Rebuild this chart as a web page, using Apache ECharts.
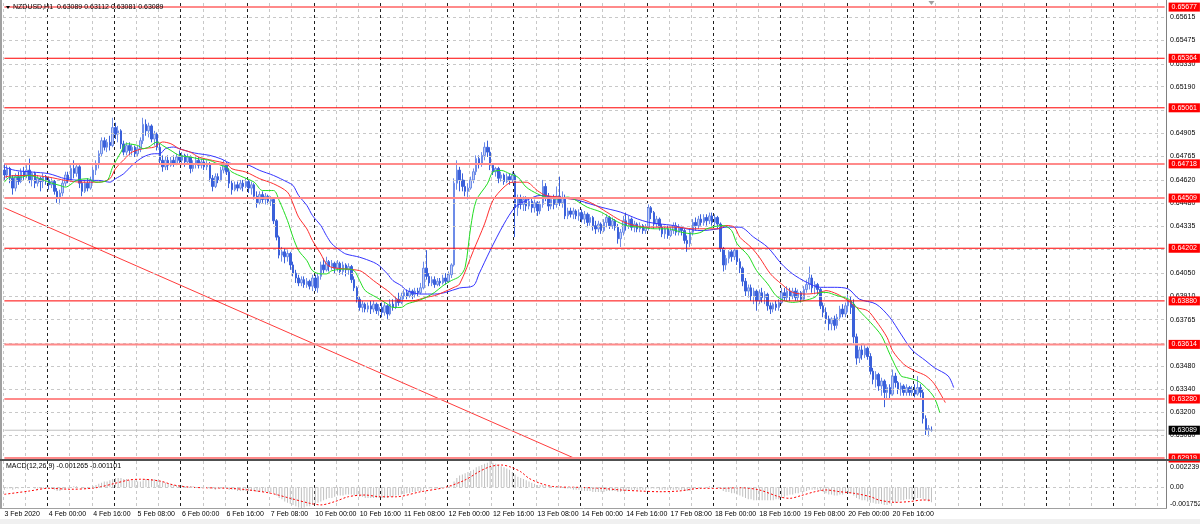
<!DOCTYPE html>
<html><head><meta charset="utf-8">
<script src="https://cdn.jsdelivr.net/npm/echarts@6/dist/echarts.min.js"></script>
<style>html,body{margin:0;padding:0;background:#fff}#c{width:1200px;height:524px}</style>
</head><body><div id="c"></div>
<script>
// ---------------- DATA ----------------
const symbolName = 'NZDUSD,H1';
const macdName = 'MACD(12,26,9)';
const timeLabels = ['3 Feb 2020','4 Feb 00:00','4 Feb 16:00','5 Feb 08:00','6 Feb 00:00','6 Feb 16:00','7 Feb 08:00','10 Feb 00:00','10 Feb 16:00','11 Feb 08:00','12 Feb 00:00','12 Feb 16:00','13 Feb 08:00','14 Feb 00:00','14 Feb 16:00','17 Feb 08:00','18 Feb 00:00','18 Feb 16:00','19 Feb 08:00','20 Feb 00:00','20 Feb 16:00'];
const priceTicks = [0.65615,0.65475,0.65330,0.65190,0.65045,0.64905,0.64765,0.64620,0.64480,0.64335,0.64195,0.64050,0.63910,0.63765,0.63620,0.63480,0.63340,0.63200,0.63060];
const levelsStrong = [0.65364,0.65061,0.64202,0.63880];
const levelsLight = [0.65677,0.64718,0.64509,0.63614,0.63280,0.62919];
const macdTicks = [0.002239, 0.00, -0.001752];
// hourly candles [open, close, low, high], 3 Feb 08:00 .. 21 Feb 06:00
const ohlc = [
// 3 Feb 08-23
[0.6468,0.6465,0.6462,0.6472],[0.6465,0.6469,0.6463,0.6471],[0.6469,0.6463,0.6460,0.6470],[0.6463,0.6457,0.6453,0.6465],
[0.6457,0.6464,0.6455,0.6466],[0.6464,0.6461,0.6459,0.6467],[0.6461,0.6467,0.6460,0.6469],[0.6467,0.6465,0.6462,0.6470],
[0.6465,0.6468,0.6463,0.6471],[0.6468,0.6462,0.6460,0.6475],[0.6462,0.6466,0.6458,0.6467],[0.6466,0.6460,0.6457,0.6467],
[0.6460,0.6463,0.6458,0.6465],[0.6463,0.6461,0.6455,0.6464],[0.6461,0.6464,0.6457,0.6466],[0.6464,0.6462,0.6459,0.6465],
// 4 Feb
[0.6462,0.6459,0.6456,0.6464],[0.6459,0.6461,0.6457,0.6463],[0.6461,0.6455,0.6453,0.6462],[0.6455,0.6451,0.6448,0.6457],
[0.6451,0.6454,0.6447,0.6456],[0.6454,0.6460,0.6452,0.6462],[0.6460,0.6465,0.6458,0.6467],[0.6465,0.6462,0.6460,0.6467],
[0.6462,0.6469,0.6461,0.6471],[0.6469,0.6466,0.6463,0.6474],[0.6466,0.6470,0.6464,0.6472],[0.6470,0.6460,0.6457,0.6471],
[0.6460,0.6455,0.6452,0.6462],[0.6455,0.6460,0.6454,0.6462],[0.6460,0.6457,0.6455,0.6463],[0.6457,0.6462,0.6456,0.6464],
[0.6462,0.6468,0.6460,0.6470],[0.6468,0.6472,0.6465,0.6474],[0.6472,0.6478,0.6469,0.6480],[0.6478,0.6486,0.6476,0.6488],
[0.6486,0.6482,0.6480,0.6488],[0.6482,0.6485,0.6479,0.6487],[0.6485,0.6483,0.6480,0.6489],[0.6483,0.6494,0.6482,0.6500],
// 5 Feb
[0.6494,0.6490,0.6487,0.6497],[0.6490,0.6492,0.6485,0.6495],[0.6492,0.6484,0.6481,0.6493],[0.6484,0.6479,0.6477,0.6486],
[0.6479,0.6483,0.6477,0.6485],[0.6483,0.6480,0.6477,0.6485],[0.6480,0.6482,0.6477,0.6484],[0.6482,0.6478,0.6476,0.6483],
[0.6478,0.6481,0.6476,0.6483],[0.6481,0.6486,0.6479,0.6488],[0.6486,0.6496,0.6484,0.6500],[0.6496,0.6492,0.6489,0.6499],
[0.6492,0.6495,0.6488,0.6497],[0.6495,0.6487,0.6485,0.6496],[0.6487,0.6490,0.6483,0.6492],[0.6490,0.6482,0.6480,0.6491],
[0.6482,0.6474,0.6472,0.6484],[0.6474,0.6470,0.6467,0.6477],[0.6470,0.6474,0.6468,0.6476],[0.6474,0.6471,0.6468,0.6477],
[0.6471,0.6474,0.6470,0.6476],[0.6474,0.6472,0.6470,0.6477],[0.6472,0.6476,0.6471,0.6478],[0.6476,0.6474,0.6472,0.6480],
// 6 Feb
[0.6474,0.6477,0.6471,0.6479],[0.6477,0.6473,0.6470,0.6478],[0.6473,0.6476,0.6472,0.6478],[0.6476,0.6469,0.6466,0.6477],
[0.6469,0.6472,0.6467,0.6474],[0.6472,0.6474,0.6469,0.6476],[0.6474,0.6471,0.6469,0.6476],[0.6471,0.6473,0.6469,0.6475],
[0.6473,0.6470,0.6468,0.6475],[0.6470,0.6472,0.6468,0.6474],[0.6472,0.6463,0.6461,0.6473],[0.6463,0.6458,0.6455,0.6465],
[0.6458,0.6464,0.6457,0.6466],[0.6464,0.6462,0.6460,0.6466],[0.6462,0.6468,0.6461,0.6470],[0.6468,0.6471,0.6466,0.6474],
[0.6471,0.6467,0.6465,0.6473],[0.6467,0.6460,0.6457,0.6469],[0.6460,0.6456,0.6453,0.6462],[0.6456,0.6459,0.6455,0.6461],
[0.6459,0.6457,0.6455,0.6461],[0.6457,0.6460,0.6456,0.6462],[0.6460,0.6458,0.6455,0.6462],[0.6458,0.6461,0.6457,0.6463],
// 7 Feb
[0.6461,0.6457,0.6454,0.6462],[0.6457,0.6459,0.6453,0.6461],[0.6459,0.6452,0.6450,0.6460],[0.6452,0.6448,0.6445,0.6455],
[0.6448,0.6453,0.6447,0.6455],[0.6453,0.6450,0.6448,0.6455],[0.6450,0.6452,0.6447,0.6454],[0.6452,0.6449,0.6447,0.6453],
[0.6449,0.6450,0.6446,0.6452],[0.6450,0.6437,0.6435,0.6451],[0.6437,0.6427,0.6425,0.6438],[0.6427,0.6416,0.6414,0.6428],
[0.6416,0.6418,0.6412,0.6421],[0.6418,0.6415,0.6411,0.6420],[0.6415,0.6417,0.6412,0.6419],[0.6417,0.6410,0.6407,0.6418],
[0.6410,0.6405,0.6403,0.6412],[0.6405,0.6402,0.6399,0.6407],[0.6402,0.6399,0.6397,0.6404],[0.6399,0.6401,0.6397,0.6403],
[0.6401,0.6398,0.6396,0.6403],[0.6398,0.6400,0.6396,0.6402],[0.6400,0.6397,0.6395,0.6401],[0.6397,0.6402,0.6394,0.6404],
// 10 Feb
[0.6402,0.6396,0.6394,0.6404],[0.6396,0.6403,0.6393,0.6405],[0.6403,0.6410,0.6401,0.6412],[0.6410,0.6407,0.6405,0.6414],
[0.6407,0.6412,0.6406,0.6415],[0.6412,0.6409,0.6406,0.6413],[0.6409,0.6411,0.6407,0.6413],[0.6411,0.6408,0.6405,0.6412],
[0.6408,0.6411,0.6406,0.6413],[0.6411,0.6406,0.6404,0.6412],[0.6406,0.6410,0.6404,0.6412],[0.6410,0.6407,0.6403,0.6411],
[0.6407,0.6409,0.6404,0.6411],[0.6409,0.6401,0.6399,0.6410],[0.6401,0.6396,0.6394,0.6403],[0.6396,0.6389,0.6387,0.6397],
[0.6389,0.6384,0.6382,0.6391],[0.6384,0.6386,0.6381,0.6388],[0.6386,0.6383,0.6381,0.6387],[0.6383,0.6385,0.6381,0.6387],
[0.6385,0.6383,0.6380,0.6388],[0.6383,0.6386,0.6381,0.6388],[0.6386,0.6382,0.6380,0.6387],[0.6382,0.6384,0.6379,0.6386],
// 11 Feb
[0.6384,0.6381,0.6378,0.6387],[0.6381,0.6385,0.6379,0.6387],[0.6385,0.6380,0.6377,0.6386],[0.6380,0.6386,0.6379,0.6389],
[0.6386,0.6384,0.6382,0.6389],[0.6384,0.6389,0.6383,0.6391],[0.6389,0.6387,0.6385,0.6393],[0.6387,0.6391,0.6386,0.6393],
[0.6391,0.6393,0.6389,0.6395],[0.6393,0.6391,0.6389,0.6395],[0.6391,0.6394,0.6390,0.6396],[0.6394,0.6392,0.6389,0.6395],
[0.6392,0.6394,0.6390,0.6396],[0.6394,0.6393,0.6391,0.6396],[0.6393,0.6396,0.6392,0.6399],[0.6396,0.6408,0.6395,0.6412],
[0.6408,0.6403,0.6401,0.6419],[0.6403,0.6399,0.6397,0.6405],[0.6399,0.6401,0.6397,0.6403],[0.6401,0.6398,0.6396,0.6403],
[0.6398,0.6400,0.6397,0.6402],[0.6400,0.6399,0.6397,0.6402],[0.6399,0.6402,0.6398,0.6404],[0.6402,0.6400,0.6398,0.6405],
// 12 Feb
[0.6400,0.6404,0.6399,0.6406],[0.6404,0.6410,0.6402,0.6411],[0.6410,0.6460,0.6409,0.6463],[0.6460,0.6468,0.6456,0.6474],
[0.6468,0.6462,0.6455,0.6470],[0.6462,0.6458,0.6455,0.6466],[0.6458,0.6455,0.6452,0.6462],[0.6455,0.6457,0.6450,0.6460],
[0.6457,0.6462,0.6456,0.6464],[0.6462,0.6467,0.6460,0.6469],[0.6467,0.6475,0.6465,0.6477],[0.6475,0.6472,0.6469,0.6477],
[0.6472,0.6477,0.6470,0.6479],[0.6477,0.6482,0.6474,0.6485],[0.6482,0.6479,0.6476,0.6486],[0.6479,0.6471,0.6468,0.6482],
[0.6471,0.6467,0.6465,0.6472],[0.6467,0.6469,0.6464,0.6470],[0.6469,0.6463,0.6460,0.6470],[0.6463,0.6465,0.6461,0.6467],
[0.6465,0.6461,0.6459,0.6466],[0.6461,0.6464,0.6460,0.6466],[0.6464,0.6462,0.6459,0.6466],[0.6462,0.6465,0.6460,0.6467],
// 13 Feb
[0.6465,0.6445,0.6427,0.6466],[0.6445,0.6451,0.6440,0.6453],[0.6451,0.6447,0.6444,0.6453],[0.6447,0.6450,0.6443,0.6452],
[0.6450,0.6446,0.6443,0.6452],[0.6446,0.6449,0.6444,0.6451],[0.6449,0.6445,0.6442,0.6451],[0.6445,0.6448,0.6442,0.6450],
[0.6448,0.6443,0.6440,0.6449],[0.6443,0.6447,0.6441,0.6449],[0.6447,0.6458,0.6445,0.6462],[0.6458,0.6452,0.6449,0.6460],
[0.6452,0.6446,0.6443,0.6454],[0.6446,0.6450,0.6444,0.6452],[0.6450,0.6447,0.6444,0.6453],[0.6447,0.6452,0.6445,0.6458],
[0.6452,0.6448,0.6446,0.6464],[0.6448,0.6451,0.6445,0.6455],[0.6451,0.6440,0.6438,0.6453],[0.6440,0.6443,0.6438,0.6445],
[0.6443,0.6441,0.6439,0.6445],[0.6441,0.6443,0.6438,0.6445],[0.6443,0.6440,0.6438,0.6444],[0.6440,0.6442,0.6437,0.6444],
// 14 Feb
[0.6442,0.6438,0.6436,0.6444],[0.6438,0.6441,0.6435,0.6443],[0.6441,0.6436,0.6433,0.6442],[0.6436,0.6439,0.6434,0.6441],
[0.6439,0.6434,0.6431,0.6440],[0.6434,0.6432,0.6429,0.6437],[0.6432,0.6435,0.6430,0.6437],[0.6435,0.6431,0.6429,0.6436],
[0.6431,0.6436,0.6430,0.6438],[0.6436,0.6439,0.6433,0.6441],[0.6439,0.6434,0.6432,0.6440],[0.6434,0.6437,0.6432,0.6439],
[0.6437,0.6433,0.6431,0.6438],[0.6433,0.6426,0.6423,0.6435],[0.6426,0.6430,0.6421,0.6432],[0.6430,0.6437,0.6428,0.6440],
[0.6437,0.6434,0.6431,0.6442],[0.6434,0.6438,0.6432,0.6440],[0.6438,0.6433,0.6431,0.6439],[0.6433,0.6435,0.6430,0.6437],
[0.6435,0.6432,0.6430,0.6436],[0.6432,0.6434,0.6430,0.6436],[0.6434,0.6431,0.6429,0.6435],[0.6431,0.6433,0.6429,0.6435],
// 17 Feb
[0.6433,0.6445,0.6431,0.6447],[0.6445,0.6442,0.6438,0.6446],[0.6442,0.6435,0.6432,0.6443],[0.6435,0.6438,0.6433,0.6440],
[0.6438,0.6433,0.6431,0.6439],[0.6433,0.6429,0.6427,0.6435],[0.6429,0.6432,0.6426,0.6434],[0.6432,0.6428,0.6426,0.6434],
[0.6428,0.6431,0.6427,0.6433],[0.6431,0.6434,0.6429,0.6436],[0.6434,0.6430,0.6428,0.6436],[0.6430,0.6433,0.6428,0.6435],
[0.6433,0.6431,0.6428,0.6434],[0.6431,0.6425,0.6423,0.6432],[0.6425,0.6423,0.6418,0.6428],[0.6423,0.6430,0.6421,0.6432],
[0.6430,0.6436,0.6428,0.6438],[0.6436,0.6434,0.6431,0.6439],[0.6434,0.6438,0.6432,0.6440],[0.6438,0.6436,0.6434,0.6441],
[0.6436,0.6439,0.6434,0.6441],[0.6439,0.6437,0.6434,0.6441],[0.6437,0.6440,0.6435,0.6442],[0.6440,0.6436,0.6434,0.6442],
// 18 Feb
[0.6436,0.6439,0.6434,0.6441],[0.6439,0.6435,0.6432,0.6440],[0.6435,0.6420,0.6418,0.6436],[0.6420,0.6410,0.6406,0.6421],
[0.6410,0.6414,0.6407,0.6416],[0.6414,0.6418,0.6411,0.6419],[0.6418,0.6415,0.6412,0.6420],[0.6415,0.6419,0.6413,0.6420],
[0.6419,0.6412,0.6410,0.6420],[0.6412,0.6408,0.6405,0.6414],[0.6408,0.6400,0.6397,0.6409],[0.6400,0.6394,0.6391,0.6402],
[0.6394,0.6396,0.6390,0.6398],[0.6396,0.6391,0.6388,0.6398],[0.6391,0.6394,0.6386,0.6396],[0.6394,0.6388,0.6382,0.6395],
[0.6388,0.6393,0.6386,0.6395],[0.6393,0.6390,0.6387,0.6396],[0.6390,0.6392,0.6386,0.6394],[0.6392,0.6385,0.6382,0.6393],
[0.6385,0.6383,0.6380,0.6387],[0.6383,0.6386,0.6381,0.6387],[0.6386,0.6384,0.6382,0.6388],[0.6384,0.6387,0.6382,0.6389],
// 19 Feb
[0.6387,0.6393,0.6386,0.6396],[0.6393,0.6390,0.6388,0.6396],[0.6390,0.6394,0.6388,0.6397],[0.6394,0.6391,0.6388,0.6396],
[0.6391,0.6394,0.6389,0.6396],[0.6394,0.6390,0.6388,0.6396],[0.6390,0.6393,0.6388,0.6395],[0.6393,0.6389,0.6387,0.6394],
[0.6389,0.6395,0.6388,0.6397],[0.6395,0.6398,0.6393,0.6401],[0.6398,0.6402,0.6395,0.6409],[0.6402,0.6396,0.6393,0.6404],
[0.6396,0.6398,0.6392,0.6400],[0.6398,0.6395,0.6392,0.6399],[0.6395,0.6385,0.6383,0.6396],[0.6385,0.6381,0.6378,0.6387],
[0.6381,0.6377,0.6374,0.6384],[0.6377,0.6374,0.6370,0.6379],[0.6374,0.6377,0.6370,0.6378],[0.6377,0.6373,0.6370,0.6379],
[0.6373,0.6378,0.6371,0.6380],[0.6378,0.6383,0.6376,0.6385],[0.6383,0.6380,0.6378,0.6386],[0.6380,0.6385,0.6378,0.6387],
// 20 Feb
[0.6385,0.6388,0.6381,0.6392],[0.6388,0.6384,0.6380,0.6391],[0.6386,0.6366,0.6362,0.6389],[0.6366,0.6353,0.6349,0.6368],
[0.6353,0.6358,0.6350,0.6360],[0.6358,0.6355,0.6352,0.6361],[0.6355,0.6359,0.6353,0.6361],[0.6359,0.6354,0.6352,0.6360],
[0.6354,0.6345,0.6343,0.6356],[0.6345,0.6340,0.6337,0.6347],[0.6340,0.6343,0.6335,0.6345],[0.6343,0.6336,0.6333,0.6344],
[0.6336,0.6339,0.6330,0.6341],[0.6339,0.6332,0.6323,0.6340],[0.6332,0.6335,0.6328,0.6337],[0.6335,0.6331,0.6328,0.6337],
[0.6331,0.6342,0.6330,0.6346],[0.6342,0.6338,0.6335,0.6344],[0.6338,0.6334,0.6331,0.6339],[0.6334,0.6336,0.6330,0.6338],
[0.6336,0.6332,0.6330,0.6337],[0.6332,0.6335,0.6330,0.6337],[0.6335,0.6332,0.6330,0.6336],[0.6332,0.6334,0.6330,0.6336],
// 21 Feb 00-06
[0.6334,0.6331,0.6329,0.6337],[0.6331,0.6335,0.6330,0.6342],[0.6335,0.6332,0.6329,0.6337],[0.6332,0.6316,0.6313,0.6334],
[0.6316,0.6309,0.6306,0.6318],[0.6309,0.6310,0.6305,0.6312],[0.63089,0.63089,0.63081,0.63112]
];
// Alligator lines: [bar index, price]
const jaw = [[0,0.64698],[4,0.64678],[10,0.64668],[16,0.64658],[22,0.64627],[28,0.64617],[34,0.64617],[38,0.64606],[40,0.64627],[43,0.64658],[46,0.64709],[50,0.64760],[54,0.64780],[56,0.64780],[58,0.64811],[61,0.64821],[63,0.64811],[67,0.64790],[70,0.64780],[74,0.64770],[78,0.64749],[82,0.64719],[87,0.64715],[92,0.64678],[97,0.64647],[102,0.64606],[104,0.64586],[106,0.64525],[109,0.64463],[111,0.64402],[114,0.64341],[116,0.64280],[118,0.64229],[121,0.64188],[123,0.64167],[128,0.64147],[133,0.64116],[135,0.64096],[138,0.64045],[140,0.64004],[143,0.63973],[145,0.63943],[150,0.63922],[155,0.63922],[159,0.63932],[164,0.63959],[169,0.63973],[171,0.64045],[175,0.64188],[180,0.64351],[184,0.64453],[188,0.64494],[193,0.64525],[198,0.64515],[204,0.64504],[207,0.64494],[215,0.64453],[222,0.64423],[228,0.64382],[232,0.64361],[236,0.64351],[241,0.64341],[246,0.64320],[251,0.64310],[257,0.64320],[260,0.64331],[265,0.64331],[270,0.64269],[275,0.64208],[280,0.64106],[284,0.64045],[289,0.63994],[294,0.63963],[299,0.63963],[304,0.63953],[308,0.63891],[314,0.63861],[319,0.63779],[323,0.63677],[327,0.63580],[332,0.63513],[335,0.63472],[340,0.63421],[342,0.63350]];
const teeth = [[0,0.64637],[4,0.64647],[10,0.64647],[16,0.64637],[22,0.64617],[28,0.64606],[34,0.64606],[38,0.64627],[40,0.64688],[44,0.64760],[46,0.64790],[50,0.64811],[54,0.64821],[57,0.64852],[60,0.64841],[63,0.64811],[67,0.64790],[70,0.64760],[75,0.64739],[80,0.64719],[82,0.64688],[87,0.64668],[92,0.64627],[97,0.64596],[102,0.64545],[104,0.64474],[106,0.64392],[109,0.64320],[111,0.64249],[114,0.64167],[116,0.64106],[118,0.64085],[123,0.64075],[128,0.64065],[130,0.64045],[133,0.64004],[138,0.63943],[143,0.63881],[147,0.63881],[152,0.63902],[155,0.63912],[158,0.63932],[162,0.63963],[164,0.63983],[169,0.64188],[173,0.64351],[176,0.64494],[180,0.64576],[183,0.64606],[188,0.64606],[192,0.64555],[195,0.64525],[200,0.64515],[204,0.64504],[207,0.64504],[212,0.64474],[217,0.64423],[222,0.64372],[227,0.64341],[232,0.64331],[236,0.64331],[242,0.64331],[248,0.64321],[253,0.64321],[257,0.64321],[260,0.64341],[263,0.64331],[265,0.64269],[269,0.64208],[272,0.64147],[276,0.64045],[280,0.63983],[284,0.63932],[289,0.63922],[294,0.63932],[296,0.63943],[300,0.63922],[304,0.63881],[307,0.63840],[311,0.63820],[314,0.63759],[318,0.63657],[320,0.63575],[324,0.63493],[328,0.63452],[332,0.63422],[335,0.63373],[339,0.63258]];
const lips = [[0,0.64606],[2,0.64637],[6,0.64637],[9,0.64647],[13,0.64627],[16,0.64606],[20,0.64586],[22,0.64576],[26,0.64617],[30,0.64627],[33,0.64606],[37,0.64617],[39,0.64698],[42,0.64790],[44,0.64841],[48,0.64831],[50,0.64811],[52,0.64821],[55,0.64852],[57,0.64831],[60,0.64800],[63,0.64770],[67,0.64760],[70,0.64749],[74,0.64739],[78,0.64709],[80,0.64698],[82,0.64668],[86,0.64637],[90,0.64606],[93,0.64555],[97,0.64555],[99,0.64494],[102,0.64371],[104,0.64269],[106,0.64188],[109,0.64126],[111,0.64065],[114,0.64045],[116,0.64045],[118,0.64065],[123,0.64075],[126,0.64065],[128,0.64004],[130,0.63943],[134,0.63902],[138,0.63861],[140,0.63840],[143,0.63840],[145,0.63861],[149,0.63881],[152,0.63902],[155,0.63932],[158,0.63973],[161,0.64004],[164,0.64030],[166,0.64086],[168,0.64331],[170,0.64494],[174,0.64596],[176,0.64668],[179,0.64678],[182,0.64658],[185,0.64637],[188,0.64576],[192,0.64535],[195,0.64515],[199,0.64504],[203,0.64515],[205,0.64504],[207,0.64484],[210,0.64453],[215,0.64423],[220,0.64372],[224,0.64341],[229,0.64331],[234,0.64321],[239,0.64321],[244,0.64300],[248,0.64290],[251,0.64300],[253,0.64321],[256,0.64335],[259,0.64341],[262,0.64310],[264,0.64229],[268,0.64157],[271,0.64065],[275,0.63984],[278,0.63912],[281,0.63881],[284,0.63871],[288,0.63881],[292,0.63902],[294,0.63932],[296,0.63932],[300,0.63912],[304,0.63892],[306,0.63861],[308,0.63820],[312,0.63749],[316,0.63667],[319,0.63554],[323,0.63422],[325,0.63411],[329,0.63391],[332,0.63350],[335,0.63289],[337,0.63197]];
const trendLine = [[0,0.64449],[206,0.62913]];
// MACD main (histogram), one value per candle
const macdMain = [
-0.0002,-0.0001,-0.0001,-0.0002,-0.0001,-0.0001,0,0,0,0,0,-0.0001,-0.0001,-0.0001,-0.0001,-0.0001,
-0.0001,-0.0001,-0.0002,-0.0003,-0.0003,-0.0002,-0.0001,-0.0001,0,0.0001,0.0001,0,-0.0001,-0.0001,-0.0001,0,
0.0001,0.0002,0.0003,0.0004,0.0005,0.0005,0.0006,0.0007,
0.0008,0.0008,0.0008,0.0007,0.0007,0.0006,0.0006,0.0006,0.0005,0.0005,0.0006,0.0007,0.0007,0.0007,0.0007,0.0006,
0.0005,0.0005,0.0004,0.0003,0.0003,0.0002,0.0002,0.0002,0.0002,0.0001,0.0001,0.0001,0.0001,0,0,0,
0,0,-0.0001,-0.0001,-0.0002,-0.0001,-0.0001,-0.0001,-0.0001,-0.0002,-0.0002,-0.0002,-0.0003,-0.0003,-0.0003,-0.0003,
-0.0003,-0.0003,-0.0003,-0.0004,-0.0004,-0.0004,-0.0004,-0.0004,-0.0004,-0.0005,-0.0007,-0.0009,-0.0010,-0.0012,-0.0013,-0.0014,-0.0015,-0.0016,-0.0017,-0.00175,-0.0017,-0.0016,-0.0016,-0.0015,
-0.0014,-0.0013,-0.0012,-0.0011,-0.0010,-0.0009,-0.0009,-0.0008,-0.0007,-0.0007,-0.0007,-0.0006,-0.0006,-0.0006,-0.0007,-0.0007,-0.0008,-0.0008,-0.0009,-0.0009,-0.0009,-0.0009,-0.0009,-0.0009,
-0.0009,-0.0009,-0.0009,-0.0008,-0.0008,-0.0007,-0.0007,-0.0006,-0.0006,-0.0005,-0.0005,-0.0004,-0.0004,-0.0003,-0.0003,-0.0002,-0.0001,-0.0001,-0.0001,-0.0001,-0.0001,-0.0001,0,0,
0,0.0001,0.0005,0.0008,0.0010,0.0011,0.0012,0.0013,0.0014,0.0015,0.0017,0.0018,0.0019,0.0020,0.0021,0.002239,0.0021,0.0020,0.0019,0.0018,0.0017,0.0016,0.0015,0.0013,
0.0011,0.0009,0.0008,0.0007,0.0006,0.0005,0.0004,0.0003,0.0002,0.0002,0.0002,0.0001,0.0001,0.0001,0,0,0,0,-0.0001,-0.0001,-0.0001,-0.0002,-0.0002,-0.0002,
-0.0003,-0.0003,-0.0003,-0.0003,-0.0004,-0.0004,-0.0004,-0.0004,-0.0004,-0.0003,-0.0003,-0.0003,-0.0003,-0.0004,-0.0004,-0.0003,-0.0003,-0.0002,-0.0002,-0.0002,-0.0002,-0.0002,-0.0002,-0.0002,
-0.0001,-0.0001,-0.0001,-0.0001,-0.0002,-0.0002,-0.0002,-0.0002,-0.0002,-0.0002,-0.0002,-0.0002,-0.0002,-0.0003,-0.0003,-0.0003,-0.0002,-0.0001,-0.0001,0,0,0,0.0001,0,
0,0,-0.0001,-0.0003,-0.0004,-0.0004,-0.0005,-0.0005,-0.0006,-0.0007,-0.0008,-0.0009,-0.0010,-0.0010,-0.0011,-0.0011,-0.0011,-0.0011,-0.0011,-0.0011,-0.0011,-0.0011,-0.0010,-0.0010,
-0.0009,-0.0008,-0.0007,-0.0006,-0.0006,-0.0005,-0.0005,-0.0004,-0.0004,-0.0003,-0.0002,-0.0002,-0.0002,-0.0002,-0.0003,-0.0004,-0.0005,-0.0006,-0.0006,-0.0007,-0.0007,-0.0006,-0.0006,-0.0005,
-0.0005,-0.0005,-0.0007,-0.0009,-0.0010,-0.0011,-0.0011,-0.0012,-0.0013,-0.0013,-0.0014,-0.0014,-0.0014,-0.0015,-0.0015,-0.0014,-0.0013,-0.0013,-0.0012,-0.0011,-0.0011,-0.0010,-0.0010,-0.0010,
-0.0010,-0.0009,-0.0009,-0.0010,-0.0011,-0.0012,-0.001265
];
// MACD signal line: [bar index, value]
const macdSignal = [[0,-0.00059],[9,-0.00031],[16,-0.00008],[24,-0.00016],[33,-0.00003],[40,0.00035],[45,0.00063],[49,0.00069],[56,0.00054],[61,0.00020],[67,0.00001],[81,-0.00008],[88,-0.00022],[96,-0.00050],[103,-0.00093],[110,-0.00135],[114,-0.00149],[119,-0.00121],[124,-0.00079],[130,-0.00065],[135,-0.00079],[141,-0.00080],[150,-0.00037],[159,0.00001],[166,0.00063],[171,0.00133],[175,0.00176],[179,0.00190],[182,0.00176],[186,0.00133],[189,0.00077],[193,0.00035],[198,0.00006],[207,0.0],[215,-0.00008],[222,-0.00022],[229,-0.00031],[236,-0.00037],[243,-0.00031],[251,-0.00008],[258,-0.00008],[265,-0.00003],[272,-0.00022],[279,-0.00079],[283,-0.00093],[287,-0.00070],[292,-0.00037],[296,-0.00022],[301,-0.00037],[306,-0.00050],[312,-0.00079],[315,-0.00107],[321,-0.00127],[326,-0.00121],[331,-0.00107],[334,-0.001101]];

// ---------------- CHART ----------------
const SLOTS = 419;
const FONT = 'Liberation Sans';
const cats = Array.from({length: SLOTS}, (_, i) => String(i));
const isGridLine = i => i % 8 === 0 && !(i >= 16 && (i - 16) % 24 === 0);
const isDayLine = i => i >= 16 && (i - 16) % 24 === 0;
const fmt5 = v => v.toFixed(5);
const last = ohlc[ohlc.length - 1];
const lastClose = last[1];
const allLevels = levelsStrong.concat(levelsLight);
const CLEAR = 'rgba(0,0,0,0)';

function xAxisFor(gridIndex, test, color, withLabels) {
  return {
    type: 'category', gridIndex, data: cats, boundaryGap: true,
    axisLine: {show: false}, axisTick: {show: false},
    axisLabel: withLabels ? {
      show: true, interval: (i) => i % 16 === 0 && (i / 16) < timeLabels.length,
      formatter: (v, i) => timeLabels[i / 16], align: 'left', margin: 3,
      fontSize: 7, fontFamily: FONT, color: '#000'
    } : {show: false},
    splitLine: {show: true, interval: (i) => test(i), lineStyle: {color, type: [3, 3], width: 1}}
  };
}

const tickLabelShown = v => !allLevels.some(l => Math.abs(l - v) < 0.0002);

const gridMarkLine = {
  symbol: ['none', 'none'], silent: true, animation: false, precision: 6,
  data: priceTicks.map(v => ({yAxis: v,
    lineStyle: {color: '#c8c8c8', type: [3, 3], width: 1},
    label: tickLabelShown(v)
      ? {show: true, position: 'end', distance: 4, formatter: fmt5(v), fontSize: 7, fontFamily: FONT, color: '#000'}
      : {show: false}}))
};

// one horizontal line series per level, spanning the whole category range, labelled at its right end
function levelSeries(v, color, width, bg, z) {
  return {
    type: 'line', name: 'level ' + fmt5(v), xAxisIndex: 0, yAxisIndex: 0, z, silent: true,
    symbol: 'none', data: [[0, v], [SLOTS - 1, v]],
    lineStyle: {color, width, type: 'solid'},
    endLabel: {show: true, formatter: fmt5(v), distance: 4, fontSize: 7, fontFamily: FONT,
               color: '#fff', backgroundColor: bg, padding: [1, 3, 1, 3]}
  };
}

const chart = echarts.init(document.getElementById('c'), null, {renderer: 'canvas'});
chart.setOption({
  animation: false,
  backgroundColor: '#ffffff',
  grid: [
    {left: 3, top: 3, width: 1163, height: 456},
    {left: 3, top: 461, width: 1163, height: 47}
  ],
  xAxis: [
    xAxisFor(0, isGridLine, '#c8c8c8', false),
    xAxisFor(0, isDayLine, '#202020', false),
    xAxisFor(1, isGridLine, '#c8c8c8', true),
    xAxisFor(1, isDayLine, '#202020', false)
  ],
  yAxis: [
    {type: 'value', gridIndex: 0, min: 0.62913, max: 0.65702, position: 'right', scale: true,
     axisLine: {show: false}, axisTick: {show: false}, axisLabel: {show: false}, splitLine: {show: false}},
    {type: 'value', gridIndex: 1, min: macdTicks[2], max: macdTicks[0], position: 'right',
     axisLine: {show: false}, axisTick: {show: false}, axisLabel: {show: false}, splitLine: {show: false}}
  ],
  series: [
    { // trend line, also hosts the horizontal grid + price scale labels
      type: 'line', name: 'trend', xAxisIndex: 0, yAxisIndex: 0, data: trendLine, z: 1,
      symbol: 'none', lineStyle: {color: '#ff3b3b', width: 1}, silent: true,
      markLine: gridMarkLine
    },
    {
      type: 'candlestick', name: symbolName, xAxisIndex: 0, yAxisIndex: 0, data: ohlc, z: 3,
      barWidth: 2,
      itemStyle: {color: '#c2cff6', color0: '#3a60da', borderColor: '#6d8ce8', borderColor0: '#3a60da', borderWidth: 1}
    },
    {type: 'line', name: 'jaw', xAxisIndex: 0, yAxisIndex: 0, data: jaw, z: 5, symbol: 'none', smooth: 0.3,
     lineStyle: {color: '#3434ff', width: 1}, silent: true},
    {type: 'line', name: 'teeth', xAxisIndex: 0, yAxisIndex: 0, data: teeth, z: 5, symbol: 'none', smooth: 0.3,
     lineStyle: {color: '#ff3030', width: 1}, silent: true},
    {type: 'line', name: 'lips', xAxisIndex: 0, yAxisIndex: 0, data: lips, z: 5, symbol: 'none', smooth: 0.3,
     lineStyle: {color: '#22dd22', width: 1}, silent: true},
    ...levelsLight.map(v => levelSeries(v, '#ff8a8a', 2, '#ff0000', 6)),
    ...levelsStrong.map(v => levelSeries(v, '#ff0000', 1, '#ff0000', 6)),
    levelSeries(lastClose, '#c0c0c0', 1, '#000000', 6),
    {
      type: 'bar', name: 'MACD', xAxisIndex: 2, yAxisIndex: 1, data: macdMain, barWidth: 1, z: 3,
      itemStyle: {color: '#c0c0c0'}, silent: true,
      markLine: {
        symbol: ['none', 'none'], silent: true, animation: false, precision: 8,
        data: [
          {yAxis: macdTicks[0], lineStyle: {color: CLEAR, width: 1},
           label: {show: true, position: 'end', distance: 4, formatter: String(macdTicks[0]), fontSize: 7, fontFamily: FONT, color: '#000', offset: [0, 6]}},
          {yAxis: macdTicks[1], lineStyle: {color: '#c8c8c8', type: [3, 3], width: 1},
           label: {show: true, position: 'end', distance: 4, formatter: macdTicks[1].toFixed(2), fontSize: 7, fontFamily: FONT, color: '#000'}},
          {yAxis: macdTicks[2], lineStyle: {color: CLEAR, width: 1},
           label: {show: true, position: 'end', distance: 4, formatter: String(macdTicks[2]), fontSize: 7, fontFamily: FONT, color: '#000', offset: [0, -4]}}
        ]
      }
    },
    {type: 'line', name: 'Signal', xAxisIndex: 2, yAxisIndex: 1, data: macdSignal, z: 4, symbol: 'none', smooth: 0.3,
     lineStyle: {color: '#ff0000', width: 1, type: [2, 2]}, silent: true}
  ]
});

// frame & header
const lastIdx = ohlc.length - 1;
const markX = chart.convertToPixel({xAxisIndex: 0}, lastIdx);
const header = `${symbolName}  ${fmt5(last[0])} ${fmt5(last[3])} ${fmt5(last[2])} ${fmt5(last[1])}`;
const macdHeader = `${macdName} ${macdMain[lastIdx].toFixed(6)} ${macdSignal[macdSignal.length - 1][1].toFixed(6)}`;
chart.setOption({
  graphic: [
    {type: 'rect', z: 100, shape: {x: 0, y: 519, width: 1200, height: 5}, style: {fill: '#f0f0f0'}, silent: true},
    {type: 'line', z: 100, shape: {x1: 1, y1: 0, x2: 1, y2: 509}, style: {stroke: '#a0a0a0', lineWidth: 2}, silent: true},
    {type: 'line', z: 100, shape: {x1: 1166.5, y1: 0, x2: 1166.5, y2: 509}, style: {stroke: '#808080', lineWidth: 1}, silent: true},
    {type: 'rect', z: 100, shape: {x: 0, y: 459, width: 1200, height: 2}, style: {fill: '#505050'}, silent: true},
    {type: 'line', z: 100, shape: {x1: 0, y1: 508.5, x2: 1167, y2: 508.5}, style: {stroke: '#a0a0a0', lineWidth: 1}, silent: true},
    {type: 'polygon', z: 100, shape: {points: [[markX - 3, 1], [markX + 3, 1], [markX, 5]]}, style: {fill: '#a0a0a0'}, silent: true},
    {type: 'polygon', z: 100, shape: {points: [[6, 6], [10, 6], [8, 9]]}, style: {fill: '#000'}, silent: true},
    {type: 'text', z: 100, x: 13, y: 4, style: {text: header, font: `7px "${FONT}"`, fill: '#000'}, silent: true},
    {type: 'text', z: 100, x: 6, y: 463, style: {text: macdHeader, font: `7px "${FONT}"`, fill: '#000'}, silent: true}
  ]
});
</script></body></html>
